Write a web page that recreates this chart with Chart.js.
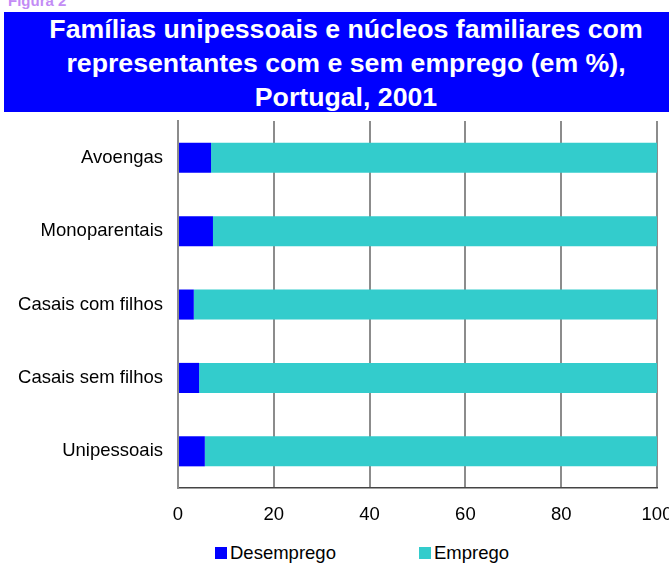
<!DOCTYPE html>
<html>
<head>
<meta charset="utf-8">
<script src="https://cdn.jsdelivr.net/npm/chart.js@4"></script>
<style>
  html, body { margin: 0; padding: 0; background: #fff; }
  body { width: 669px; height: 563px; overflow: hidden; position: relative; font-family: "Liberation Sans", Arial, sans-serif; }
  #fig { position: absolute; left: 8px; top: -7px; font-size: 15px; line-height: 15px; font-weight: bold; color: #c38cf5; }
  #title { position: absolute; left: 4px; top: 12px; width: 690px; height: 100px; background: #0000ff; color: #fff;
           font-weight: bold; font-size: 26.7px; line-height: 34px; text-align: center; }
  #title div { width: 684px; }
  #chartBox { position: absolute; left: 0; top: 95px; width: 700px; height: 430px; }
  #legend { position: absolute; top: 542px; left: 0; font-size: 18.5px; line-height: 22px; color: #000; }
  #legend span.item { position: absolute; white-space: nowrap; }
  #legend i { display: inline-block; width: 12px; height: 12px; margin-right: 3px; vertical-align: 0px; }
</style>
</head>
<body>
<div id="fig">Figura 2</div>
<div id="title"><div>Famílias unipessoais e núcleos familiares com<br>representantes com e sem emprego (em %),<br>Portugal, 2001</div></div>
<div id="chartBox"><canvas id="barChart" width="700" height="430"></canvas></div>
<div id="legend"></div>
<script>
var categories = ['Avoengas', 'Monoparentais', 'Casais com filhos', 'Casais sem filhos', 'Unipessoais'];
var desemprego = [6.9, 7.3, 3.3, 4.4, 5.6];
var emprego    = [93.1, 92.7, 96.7, 95.6, 94.4];
var xTicks     = [0, 20, 40, 60, 80, 100];

var series = [
    { label: 'Desemprego', data: desemprego, color: '#0000ff' },
    { label: 'Emprego',    data: emprego,    color: '#33cccc' }
];

var gridColor = '#8c8c8c';
var font = { family: '"Liberation Sans", Arial, sans-serif', size: 18.5 };

var ctx = document.getElementById('barChart').getContext('2d');
var chart = new Chart(ctx, {
    type: 'bar',
    data: {
        labels: categories,
        datasets: series.map(function (s) {
            return {
                label: s.label,
                data: s.data,
                backgroundColor: s.color,
                borderWidth: 0,
                barPercentage: 0.41,
                categoryPercentage: 1
            };
        })
    },
    options: {
        indexAxis: 'y',
        responsive: false,
        animation: false,
        layout: { padding: { top: 0, right: 43, bottom: 0, left: 0 } },
        plugins: {
            legend: { display: false },
            title: { display: false },
            tooltip: { enabled: false }
        },
        scales: {
            x: {
                stacked: true,
                min: 0,
                max: 100,
                afterBuildTicks: function (axis) {
                    axis.ticks = xTicks.map(function (v) { return { value: v }; });
                },
                grid: { color: gridColor, lineWidth: 2, drawTicks: false },
                border: { display: true, color: '#444', width: 1.5 },
                ticks: { color: '#000', font: font, padding: 16, maxRotation: 0 },
                afterFit: function (scale) { scale.height = 37; }
            },
            y: {
                stacked: true,
                grid: { display: true, drawOnChartArea: false, drawTicks: false },
                border: { display: true, color: gridColor, width: 2 },
                ticks: { color: '#000', font: font, padding: 15 },
                afterFit: function (scale) { scale.width = 178; }
            }
        }
    }
});

// legend below the chart
var legendPos = [215, 419];
var legendHtml = '';
for (var i = 0; i < series.length; i++) {
    legendHtml += '<span class="item" style="left:' + legendPos[i] + 'px"><i style="background:' + series[i].color + '"></i>' + series[i].label + '</span>';
}
document.getElementById('legend').innerHTML = legendHtml;
</script>
</body>
</html>
